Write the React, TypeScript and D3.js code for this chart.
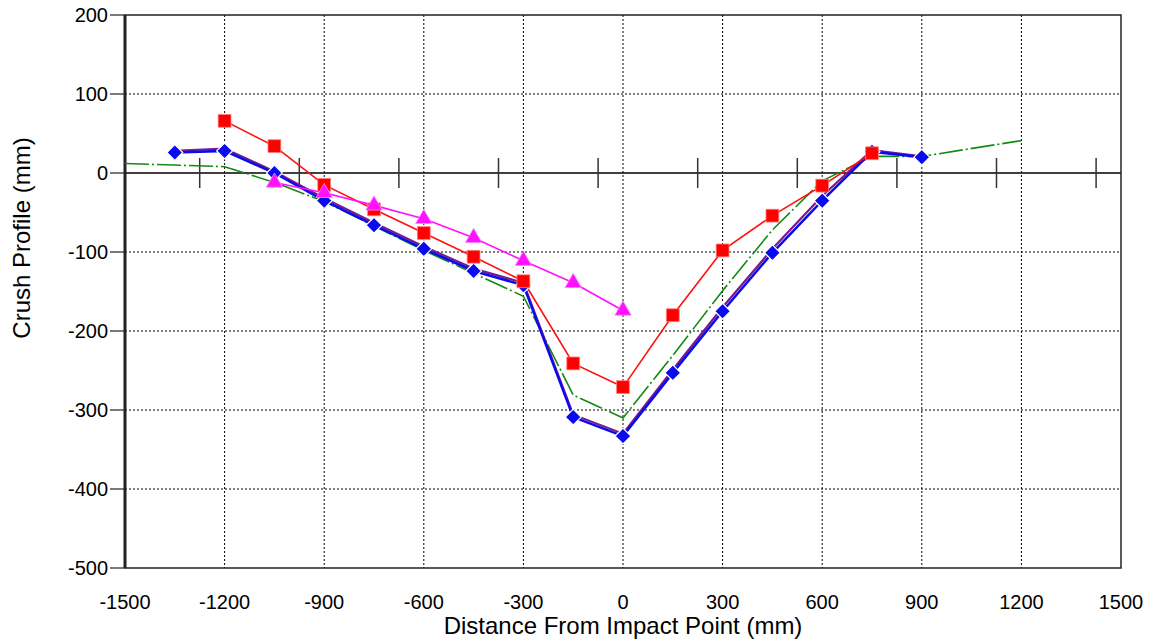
import * as d3 from "d3";

const xTicks = [-1500, -1200, -900, -600, -300, 0, 300, 600, 900, 1200, 1500];
const yTicks = [200, 100, 0, -100, -200, -300, -400, -500];
const zeroTicks = [-1275, -975, -675, -375, -75, 225, 525, 825, 1125, 1425];

const blueX = [-1350, -1200, -1050, -900, -750, -600, -450, -300, -150, 0, 150, 300, 450, 600, 750, 900];
const blueY = [26, 28, 0, -35, -66, -96, -124, -142, -309, -333, -253, -175, -101, -35, 27, 20];
const purpleY = [28, 31, 2, -32, -63, -93, -121, -139, -306, -330, -249, -170, -96, -29, 29, 21];

const redX = [-1200, -1050, -900, -750, -600, -450, -300, -150, 0, 150, 300, 450, 600, 750];
const redY = [66, 34, -15, -46, -76, -106, -137, -241, -271, -180, -98, -54, -16, 25];

const magX = [-1050, -900, -750, -600, -450, -300, -150, 0];
const magY = [-12, -25, -41, -58, -82, -111, -139, -174];

const greenX = [-1500, -1200, -1050, -900, -750, -600, -450, -300, -150, 0, 150, 300, 450, 600, 750, 900, 1200];
const greenY = [12, 8, -12, -36, -67, -98, -127, -156, -281, -310, -231, -149, -72, -10, 21, 21, 41];

const W = 1149, H = 641;
const m = { left: 125, right: 28, top: 15, bottom: 73 };
const FONT = "'Liberation Sans', Arial, sans-serif";

export default function App() {
  const x = d3.scaleLinear().domain([-1500, 1500]).range([m.left, W - m.right]);
  const y = d3.scaleLinear().domain([-500, 200]).range([H - m.bottom, m.top]);
  const line = d3.line<[number, number]>().x(d => x(d[0])).y(d => y(d[1]));
  const zip = (xs: number[], ys: number[]) => xs.map((v, i) => [v, ys[i]] as [number, number]);
  const blue = zip(blueX, blueY), purple = zip(blueX, purpleY), red = zip(redX, redY);
  const mag = zip(magX, magY), green = zip(greenX, greenY);
  const diamond = d3.symbol(d3.symbolDiamond2, 160)();
  const square = d3.symbol(d3.symbolSquare2, 210)();
  const tri = d3.symbol(d3.symbolTriangle2, 190)();
  const [x0, x1] = x.range();
  const [yb, yt] = y.range();

  return (
    <div>
      <style>{"html,body{margin:0;padding:0;overflow:hidden}"}</style>
      <svg width={W} height={H} style={{ position: "absolute", left: 0, top: 0, background: "#fff" }} fontFamily={FONT}>
        {xTicks.slice(1, -1).map(t => (
          <line key={"gx" + t} x1={x(t)} x2={x(t)} y1={yt} y2={yb} stroke="#000" strokeWidth={1} strokeDasharray="2 2" />
        ))}
        {yTicks.slice(1, -1).filter(t => t !== 0).map(t => (
          <line key={"gy" + t} x1={x0} x2={x1} y1={y(t)} y2={y(t)} stroke="#000" strokeWidth={1} strokeDasharray="2 2" />
        ))}
        <line x1={x0} x2={x1} y1={y(0)} y2={y(0)} stroke="#000" strokeWidth={1.5} />
        {zeroTicks.map(t => (
          <line key={"zt" + t} x1={x(t)} x2={x(t)} y1={y(0) - 15} y2={y(0) + 15} stroke="#333" strokeWidth={1.5} />
        ))}
        <rect x={x0} y={yt} width={x1 - x0} height={yb - yt} fill="none" stroke="#222" strokeWidth={1.5} />
        <line x1={x0} x2={x0} y1={yt} y2={yb} stroke="#222" strokeWidth={3} />
        {yTicks.map(t => (
          <g key={"yt" + t}>
            <line x1={x0 - 15} x2={x0} y1={y(t)} y2={y(t)} stroke="#222" strokeWidth={1.2} />
            <text x={x0 - 17} y={y(t)} dy="0.36em" textAnchor="end" fontSize={20}>{t}</text>
          </g>
        ))}
        {xTicks.map(t => (
          <text key={"xt" + t} x={x(t)} y={609} textAnchor="middle" fontSize={20}>{t}</text>
        ))}
        <text x={623} y={634} textAnchor="middle" fontSize={24}>Distance From Impact Point (mm)</text>
        <text transform="translate(30,238) rotate(-90)" textAnchor="middle" fontSize={24}>Crush Profile (mm)</text>

        <path d={line(green)!} fill="none" stroke="#138a13" strokeWidth={1.6} strokeDasharray="24 3 2 3" />
        <path d={line(purple)!} fill="none" stroke="#7a1a8c" strokeWidth={2.2} />
        <path d={line(blue)!} fill="none" stroke="#0a0af0" strokeWidth={2.5} />
        <path d={line(red)!} fill="none" stroke="#ff1010" strokeWidth={1.6} />
        <path d={line(mag)!} fill="none" stroke="#ff10ff" strokeWidth={1.6} />
        {blue.map((d, i) => (
          <path key={"bd" + i} d={diamond!} transform={`translate(${x(d[0])},${y(d[1])})`} fill="#0a0af0" stroke="#fff" strokeWidth={1.2} />
        ))}
        {red.map((d, i) => (
          <path key={"rs" + i} d={square!} transform={`translate(${x(d[0])},${y(d[1])})`} fill="#ff0000" stroke="#ff8080" strokeWidth={0.8} />
        ))}
        {mag.map((d, i) => (
          <path key={"mt" + i} d={tri!} transform={`translate(${x(d[0])},${y(d[1])})`} fill="#ff10ff" stroke="#ff80ff" strokeWidth={0.8} />
        ))}
      </svg>
    </div>
  );
}
